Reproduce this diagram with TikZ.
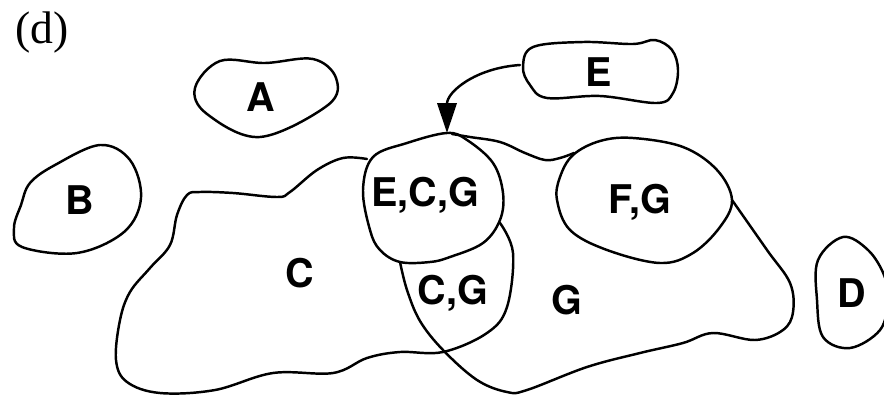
\documentclass[tikz,border=0pt]{standalone}
\usepackage{fontspec}
\setmainfont{Liberation Serif}
\setsansfont{TeX Gyre Heros}
\usetikzlibrary{arrows.meta}
\tikzset{
  blob/.style={line width=1.4pt, line join=round, line cap=round},
  lab/.style={font=\sffamily\bfseries\fontsize{22.5}{22.5}\selectfont, inner sep=0pt},
}
\begin{document}
\begin{tikzpicture}[x=0.02cm, y=-0.02cm]
\useasboundingbox (0,0) rectangle (884,396);
% panel label
\node[inner sep=0pt, font=\fontsize{26}{26}\selectfont] (title) at (42,33) {(d)};
% A
\draw[blob] plot[smooth cycle, tension=0.6] coordinates {(195,88) (220,61) (265,63) (313,59) (336,78) (328,105) (260,137) (207,114)};
\node[lab] (a) at (261,97) {A};
% B
\draw[blob] plot[smooth cycle, tension=0.6] coordinates {(100,145) (130,160) (141,198) (124,232) (77,253) (22,247) (14,228) (21,205) (30,183) (55,165)};
\node[lab] (b) at (80,200) {B};
% E
\draw[blob] plot[smooth cycle, tension=0.6] coordinates {(523,67) (533,47) (583,42) (633,44) (655,40) (672,50) (678,70) (673,93) (657,103) (600,96) (547,98) (530,85)};
\node[lab] (e) at (599,72) {E};
% D
\draw[blob] plot[smooth cycle, tension=0.6] coordinates {(843,237) (868,250) (884,275) (888,300) (880,330) (850,348) (823,337) (817,300) (818,260)};
\node[lab] (d) at (852,293) {D};
% E,C,G region
\draw[blob] plot[smooth cycle, tension=0.6] coordinates {(447,133) (467,140) (493,163) (503,193) (500,220) (483,243) (450,257) (430,262) (400,262) (380,250) (370,230) (363,190) (373,157) (407,143)};
\node[lab] (ecg) at (425,195) {E,C,G};
% F,G region
\draw[blob] plot[smooth cycle, tension=0.6] coordinates {(573,155) (600,141) (633,138) (683,147) (717,170) (732,200) (720,227) (693,253) (660,263) (607,250) (570,230) (557,200) (560,177)};
\node[lab] (fg) at (640,202) {F,G};
% C outline
\draw[blob] plot[smooth, tension=0.6] coordinates {(367,159) (343,158) (317,170) (290,192) (277,197) (233,193) (200,192) (187,195) (177,215) (170,245) (150,268) (130,292) (120,320) (116,360) (127,382) (160,393) (215,390) (273,373) (333,373) (367,358) (400,352) (443,352) (487,333) (507,307) (513,253) (500,223)};
\node[lab] (c) at (300,273) {C};
\node[lab] (cg) at (453,293) {C,G};
% G outline
\draw[blob] plot[smooth, tension=0.6] coordinates {(452,134) (470,137) (500,142) (525,153) (545,160) (560,158) (574,153)};
\draw[blob] plot[smooth, tension=0.6] coordinates {(732,200) (767,250) (790,283) (793,312) (783,330) (755,340) (713,333) (683,343) (640,353) (587,367) (527,390) (507,392) (477,380) (443,350) (420,321) (407,290) (400,262)};
\node[lab] (g) at (567,300) {G};
% arrow from E to E,C,G
\coordinate (estart) at (520,65);
\coordinate (ecgtop) at (447,133);
\draw[blob, -{Triangle[length=17pt, width=11pt]}] (estart) .. controls (475,68) and (447,92) .. (ecgtop);
\end{tikzpicture}
\end{document}
